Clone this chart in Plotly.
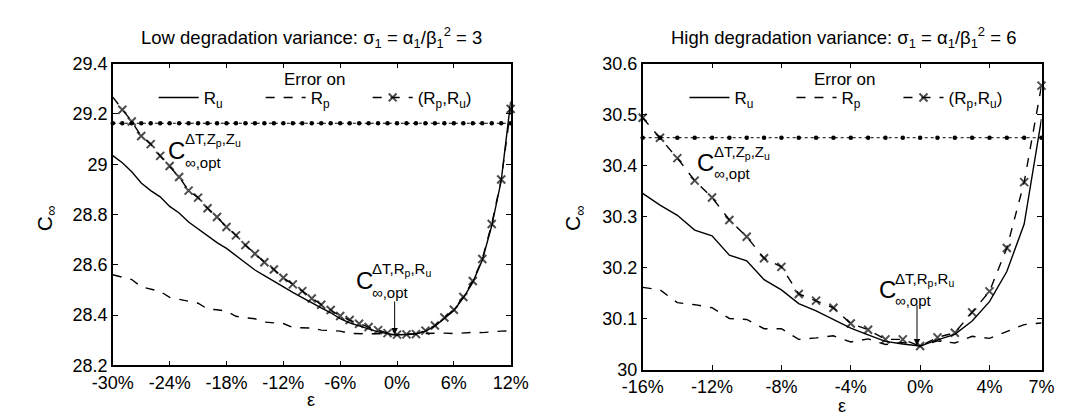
import plotly.graph_objects as go

# ---------------- data ----------------
left_eps = list(range(-30, 13))
left_Ru = [29.034, 29.006, 28.970, 28.925, 28.895, 28.870, 28.832, 28.806, 28.770, 28.743,
           28.718, 28.688, 28.665, 28.636, 28.605, 28.579, 28.557, 28.534, 28.512, 28.490,
           28.469, 28.447, 28.428, 28.409, 28.386, 28.369, 28.356, 28.343, 28.333, 28.326,
           28.321, 28.322, 28.324, 28.336, 28.356, 28.386, 28.418, 28.468, 28.530, 28.618,
           28.755, 28.935, 29.250]
left_Rp = [28.560, 28.551, 28.541, 28.512, 28.503, 28.494, 28.470, 28.462, 28.455, 28.447,
           28.424, 28.421, 28.415, 28.395, 28.389, 28.385, 28.372, 28.370, 28.366, 28.350,
           28.349, 28.348, 28.340, 28.337, 28.336, 28.327, 28.325, 28.325, 28.326, 28.323,
           28.320, 28.325, 28.326, 28.327, 28.328, 28.328, 28.326, 28.329, 28.331, 28.330,
           28.334, 28.336, 28.337]
left_RpRu = [29.267, 29.217, 29.170, 29.112, 29.080, 29.033, 28.993, 28.949, 28.895, 28.867,
             28.825, 28.790, 28.750, 28.717, 28.678, 28.644, 28.610, 28.581, 28.548, 28.522,
             28.495, 28.466, 28.441, 28.420, 28.396, 28.380, 28.365, 28.352, 28.340, 28.328,
             28.322, 28.323, 28.324, 28.338, 28.358, 28.390, 28.421, 28.472, 28.535, 28.623,
             28.762, 28.939, 29.220]
left_ZpZu = 29.163

right_eps = list(range(-16, 8))
right_Ru = [30.346, 30.323, 30.303, 30.274, 30.263, 30.225, 30.214, 30.177, 30.157, 30.130,
            30.116, 30.099, 30.082, 30.069, 30.056, 30.051, 30.047, 30.059, 30.070, 30.096,
            30.134, 30.193, 30.286, 30.492]
right_Rp = [30.162, 30.157, 30.132, 30.128, 30.122, 30.101, 30.099, 30.081, 30.081, 30.060,
            30.063, 30.067, 30.055, 30.061, 30.050, 30.054, 30.047, 30.057, 30.053, 30.066,
            30.062, 30.075, 30.089, 30.092]
right_RpRu = [30.494, 30.455, 30.415, 30.371, 30.338, 30.294, 30.261, 30.219, 30.202, 30.149,
              30.136, 30.122, 30.091, 30.079, 30.060, 30.060, 30.047, 30.064, 30.073, 30.113,
              30.154, 30.239, 30.368, 30.557]
right_ZpZu = 30.455

left_xticks = [-30, -24, -18, -12, -6, 0, 6, 12]
right_xticks = [-16, -12, -8, -4, 0, 4, 7]
left_yticks = [28.2, 28.4, 28.6, 28.8, 29.0, 29.2, 29.4]
left_yticklabels = ["28.2", "28.4", "28.6", "28.8", "29", "29.2", "29.4"]
right_yticks = [30.0, 30.1, 30.2, 30.3, 30.4, 30.5, 30.6]
right_yticklabels = ["30", "30.1", "30.2", "30.3", "30.4", "30.5", "30.6"]

series_names = ["R<sub>u</sub>", "R<sub>p</sub>", "(R<sub>p</sub>,R<sub>u</sub>)"]
legend_title = "Error on"

FONT = "Liberation Sans, Arial, Helvetica, sans-serif"
W, H = 1065, 412

fig = go.Figure()


def add_panel(eps, ru, rp, rpru, zref, xa, ya, legend, skip_first_marker):
    fig.add_trace(go.Scatter(x=eps, y=ru, mode="lines", name=series_names[0],
                             line=dict(color="black", width=1.4), xaxis=xa, yaxis=ya,
                             legend=legend, cliponaxis=False))
    fig.add_trace(go.Scatter(x=eps, y=rp, mode="lines", name=series_names[1],
                             line=dict(color="black", width=1.4, dash="dash"), xaxis=xa, yaxis=ya,
                             legend=legend, cliponaxis=False))
    sizes = [8] * len(eps)
    if skip_first_marker:
        sizes[0] = 0
    fig.add_trace(go.Scatter(x=eps, y=rpru, mode="lines+markers", name=series_names[2],
                             line=dict(color="black", width=1.4, dash="dash"),
                             marker=dict(symbol="x-thin", size=sizes, color="black",
                                         line=dict(color="black", width=2)),
                             xaxis=xa, yaxis=ya, legend=legend, cliponaxis=False))
    fig.add_trace(go.Scatter(x=eps, y=[zref] * len(eps), mode="lines+markers", showlegend=False,
                             line=dict(color="black", width=1, dash="dot"),
                             marker=dict(symbol="circle", size=4.5, color="black"),
                             xaxis=xa, yaxis=ya, cliponaxis=False))


add_panel(left_eps, left_Ru, left_Rp, left_RpRu, left_ZpZu, "x", "y", "legend", True)
add_panel(right_eps, right_Ru, right_Rp, right_RpRu, right_ZpZu, "x2", "y2", "legend2", False)

axis_common = dict(showline=True, linecolor="black", linewidth=1.5, mirror="ticks",
                   ticks="inside", ticklen=5, tickwidth=1, tickcolor="black",
                   showgrid=False, zeroline=False,
                   tickfont=dict(family=FONT, size=18, color="black"))

legend_common = dict(orientation="h", y=1 - 84 / H, xanchor="center", yanchor="middle",
                     bgcolor="rgba(0,0,0,0)", font=dict(family=FONT, size=17),
                     itemwidth=40, tracegroupgap=0, entrywidth=52)

fig.update_layout(
    width=W, height=H,
    margin=dict(l=0, r=0, t=0, b=0),
    paper_bgcolor="white", plot_bgcolor="white",
    font=dict(family=FONT, color="black"),
    xaxis=dict(domain=[87 / W, 500 / W], range=[-30, 12], tickvals=left_xticks,
               ticktext=[f"{v}%" for v in left_xticks], anchor="y", **axis_common),
    yaxis=dict(domain=[1 - 365 / H, 1 - 48 / H], range=[28.2, 29.4], tickvals=left_yticks,
               ticktext=left_yticklabels, anchor="x", **axis_common),
    xaxis2=dict(domain=[637 / W, 1051 / W], range=[-16, 7], tickvals=right_xticks,
                ticktext=[f"{v}%" for v in right_xticks], anchor="y2", **axis_common),
    yaxis2=dict(domain=[1 - 370 / H, 1 - 48 / H], range=[30.0, 30.6], tickvals=right_yticks,
                ticktext=right_yticklabels, anchor="x2", **axis_common),
    legend=dict(x=296 / W, **legend_common),
    legend2=dict(x=847 / W, **legend_common),
)

ann = []
# titles
ann.append(dict(text="Low degradation variance: σ<sub>1</sub> = α<sub>1</sub>/β<sub>1</sub><sup>2</sup> = 3",
                xref="paper", yref="paper", x=293 / W, y=1 - 20 / H, showarrow=False,
                xanchor="center", yanchor="middle", font=dict(family=FONT, size=18.5)))
ann.append(dict(text="High degradation variance: σ<sub>1</sub> = α<sub>1</sub>/β<sub>1</sub><sup>2</sup> = 6",
                xref="paper", yref="paper", x=845 / W, y=1 - 20 / H, showarrow=False,
                xanchor="center", yanchor="middle", font=dict(family=FONT, size=18.5)))
# legend headings
for xc in (296, 847):
    ann.append(dict(text=legend_title, xref="paper", yref="paper", x=xc / W, y=1 - 65 / H,
                    showarrow=False, xanchor="center", yanchor="middle",
                    font=dict(family=FONT, size=17)))
# axis titles
for xc, yc in [(17, 210), (566, 210)]:
    ann.append(dict(text="C<sub>∞</sub>", xref="paper", yref="paper", x=xc / W, y=1 - yc / H,
                    showarrow=False, textangle=-90, xanchor="center", yanchor="middle",
                    font=dict(family=FONT, size=21)))
for xc, yc in [(293, 401), (844, 408)]:
    ann.append(dict(text="ε", xref="paper", yref="paper", x=xc / W, y=1 - yc / H,
                    showarrow=False, xanchor="center", yanchor="middle",
                    font=dict(family=FONT, size=18)))


def copt(xr, yr, xc, yc, xs, ysup, ysub, sup):
    ann.append(dict(text="C", xref=xr, yref=yr, x=xc, y=yc, showarrow=False,
                    xanchor="left", yanchor="middle", font=dict(family=FONT, size=24)))
    ann.append(dict(text=sup, xref=xr, yref=yr, x=xs, y=ysup, showarrow=False,
                    xanchor="left", yanchor="middle", font=dict(family=FONT, size=15)))
    ann.append(dict(text="∞,opt", xref=xr, yref=yr, x=xs, y=ysub, showarrow=False,
                    xanchor="left", yanchor="middle", font=dict(family=FONT, size=15)))


zsup = "ΔT,Z<sub>p</sub>,Z<sub>u</sub>"
rsup = "ΔT,R<sub>p</sub>,R<sub>u</sub>"
copt("x", "y", -24.4, 29.056, -22.6, 29.100, 29.005, zsup)
copt("x", "y", -4.5, 28.537, -2.8, 28.583, 28.490, rsup)
copt("x2", "y2", -13.0, 30.406, -12.0, 30.427, 30.385, zsup)
copt("x2", "y2", -2.5, 30.157, -1.55, 30.177, 30.137, rsup)

# arrows
ann.append(dict(text="", xref="x", yref="y", axref="x", ayref="y", x=-0.25, y=28.322,
                ax=-0.25, ay=28.46, showarrow=True, arrowhead=2, arrowsize=1.3,
                arrowwidth=1, arrowcolor="black"))
ann.append(dict(text="", xref="x2", yref="y2", axref="x2", ayref="y2", x=-0.18, y=30.048,
                ax=-0.18, ay=30.130, showarrow=True, arrowhead=2, arrowsize=1.3,
                arrowwidth=1, arrowcolor="black"))

fig.update_layout(annotations=ann)
fig.write_html("out.html")
